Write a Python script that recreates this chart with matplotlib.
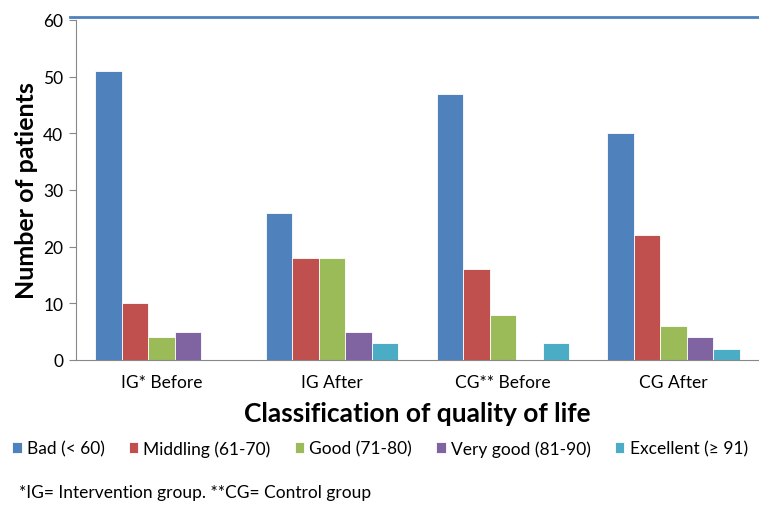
import numpy as np
from matplotlib import pyplot as plt
from matplotlib.lines import Line2D

plt.rcParams['font.family'] = ['Lato', 'DejaVu Sans']

groups = ["IG* Before", "IG After", "CG** Before", "CG After"]
series = ["Bad (< 60)", "Middling (61-70)", "Good (71-80)", "Very good (81-90)", "Excellent (\u2265 91)"]
values = [
    [51, 26, 47, 40],
    [10, 18, 16, 22],
    [4, 18, 8, 6],
    [5, 5, 0, 4],
    [0, 3, 3, 2],
]
colors = ["#4F81BD", "#C0504D", "#9BBB59", "#8064A2", "#4BACC6"]

#
# plot
#

fig = plt.figure(figsize=(7.59, 5.06), dpi=100)
ax = fig.add_axes([0.1, 0.2866, 0.9, 0.672])

x = np.arange(len(groups))
w = 0.155
for i, (name, vals) in enumerate(zip(series, values)):
    ax.bar(x + (i - 2) * w, vals, w, color=colors[i], edgecolor="white",
           linewidth=0.6, label=name)

ax.set_xlim(-0.5, 3.5)
ax.set_ylim(0, 60)
ax.set_yticks(range(0, 61, 10))
ax.set_xticks(x)
ax.set_xticklabels(groups, fontsize=12.5)
ax.tick_params(axis='y', labelsize=12.5, length=5, color="#888888", pad=4)
ax.tick_params(axis='x', length=0, pad=10)
for s in ("top", "right"):
    ax.spines[s].set_visible(False)
for s in ("left", "bottom"):
    ax.spines[s].set_color("#888888")

ax.set_ylabel("Number of patients", fontsize=18, fontweight="bold", labelpad=4)
ax.set_xlabel("Classification of quality of life", fontsize=19, fontweight="bold", labelpad=8)

# top border line
fig.add_artist(Line2D([0.092, 1.0], [0.965, 0.965], color="#4F81BD", lw=2))

fig.legend(loc="upper left", bbox_to_anchor=(0.016, 0.128), ncol=5, frameon=False,
           fontsize=12.5, handlelength=0.55, handleheight=0.55, handletextpad=0.3,
           columnspacing=1.38, borderaxespad=0, borderpad=0,
           bbox_transform=fig.transFigure)

fig.text(0.025, 0.015, "*IG= Intervention group. **CG= Control group", fontsize=12.5)

fig.savefig("out.png", dpi=100)
